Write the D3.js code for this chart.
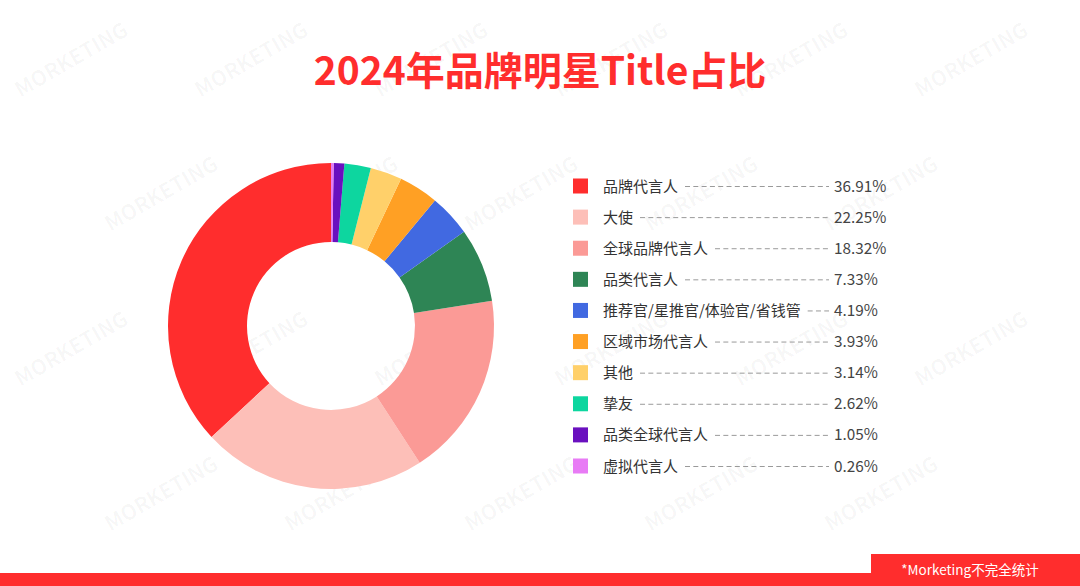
<!DOCTYPE html>
<html><head><meta charset="utf-8">
<script src="https://cdn.jsdelivr.net/npm/d3@7"></script>
<style>
html,body{margin:0;padding:0;background:#fff;}
svg{display:block;font-family:"Noto Sans CJK SC","Noto Sans",sans-serif;}
</style></head>
<body>
<svg id="chart" width="1080" height="586"></svg>
<script>
const categories = ["品牌代言人","大使","全球品牌代言人","品类代言人","推荐官/星推官/体验官/省钱管","区域市场代言人","其他","挚友","品类全球代言人","虚拟代言人"];
const values = [36.91,22.25,18.32,7.33,4.19,3.93,3.14,2.62,1.05,0.26];
const valueLabels = ["36.91%","22.25%","18.32%","7.33%","4.19%","3.93%","3.14%","2.62%","1.05%","0.26%"];
const colors = ["#FF2D2D","#FDBFB8","#FB9A96","#2E8555","#4169E1","#FFA024","#FFD06A","#0DD69F","#6A10BF","#E87BF5"];
const title = "2024年品牌明星Title占比";
const footnote = "*Morketing不完全统计";

const svg = d3.select("#chart");
const W = 1080, H = 586;

// watermarks (kept fully inside the frame)
const wm = svg.append("g");
const wmRows = [66, 200, 355, 500];
wmRows.forEach((y, ri) => {
  for (let x = (ri % 2 ? 165 : 75); x <= W - 75; x += 180) {
    wm.append("text")
      .attr("transform", `translate(${x},${y}) rotate(-30)`)
      .attr("text-anchor", "middle")
      .attr("font-size", 21).attr("font-weight", 700)
      .attr("fill", "#000").attr("fill-opacity", 0.035)
      .text("MORKETING");
  }
});

// title
svg.append("text").attr("x", 540).attr("y", 85).attr("text-anchor", "middle")
  .attr("font-size", 39).attr("font-weight", 700).attr("fill", "#FF2D2D")
  .text(title);

// donut
const cx = 331, cy = 326, R = 163, r = 84;
const data = categories.map((c, i) => ({c, v: values[i], col: colors[i]}));
const pie = d3.pie().value(d => d.v).sort(null)
  .startAngle(2 * Math.PI).endAngle(0);
const arc = d3.arc().innerRadius(r).outerRadius(R);
svg.append("g").attr("transform", `translate(${cx},${cy})`)
  .selectAll("path").data(pie(data)).join("path")
  .attr("d", arc).attr("fill", d => d.data.col);

// legend
const y = d3.scalePoint().domain(categories).range([186, 466]);
const lg = svg.append("g");
categories.forEach((c, i) => {
  const yy = y(c);
  lg.append("rect").attr("x", 573).attr("y", yy - 7.5).attr("width", 15).attr("height", 15).attr("fill", colors[i]);
  const t = lg.append("text").attr("x", 603).attr("y", yy + 5.5)
    .attr("font-size", 15).attr("fill", "#333").text(c);
  const w = t.node().getComputedTextLength();
  lg.append("line").attr("x1", 603 + w + 7).attr("x2", 829)
    .attr("y1", yy + 0.5).attr("y2", yy + 0.5)
    .attr("stroke", "#9a9a9a").attr("stroke-width", 1).attr("stroke-dasharray", "5,3.3");
  lg.append("text").attr("x", 834).attr("y", yy + 5.5)
    .attr("font-size", 15.3).attr("fill", "#444").text(valueLabels[i]);
});

// footer
svg.append("rect").attr("x", 0).attr("y", 573).attr("width", W).attr("height", 13).attr("fill", "#FF2D2D");
svg.append("rect").attr("x", 871).attr("y", 554).attr("width", W - 871).attr("height", 32).attr("fill", "#FF2D2D");
svg.append("text").attr("x", 970).attr("y", 575).attr("text-anchor", "middle")
  .attr("font-size", 13.5).attr("fill", "#fff").text(footnote);
</script>
</body></html>
